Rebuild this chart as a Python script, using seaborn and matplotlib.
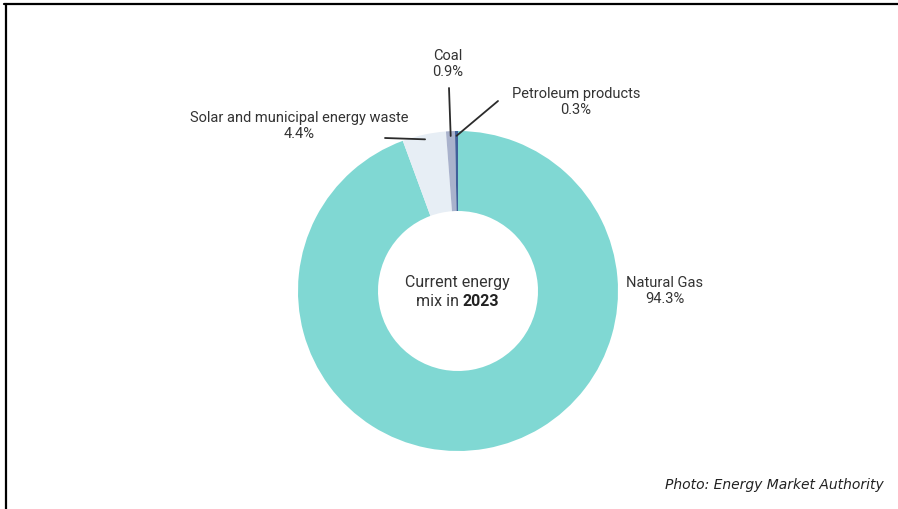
import numpy as np
import matplotlib.pyplot as plt
from matplotlib.lines import Line2D
import seaborn as sns

sns.set_theme(style='white')
plt.rcParams['font.family'] = ['Roboto', 'DejaVu Sans']

# Data
sources = ['Natural Gas', 'Solar and municipal energy waste', 'Coal', 'Petroleum products']
shares = [94.3, 4.4, 0.9, 0.3]
colors = ['#80d8d3', '#e7eef5', '#a9b2cc', '#40609a']
center_line1 = 'Current energy'
center_line2 = ['mix in', '2023']
credit = 'Photo: Energy Market Authority'

W, H = 898, 510
def px(x, y):
    # pixel position (top-left origin) -> data coords
    return x, H - y

fig = plt.figure(figsize=(W / 100, H / 100), dpi=100)
ax = fig.add_axes([0, 0, 1, 1])

cx, cy = px(458, 292)
R = 160
wedges, _ = ax.pie(shares, colors=colors, startangle=90, counterclock=False,
                   radius=R, center=(cx, cy),
                   wedgeprops=dict(width=R * 0.5, linewidth=0))
ax.set_xlim(0, W)
ax.set_ylim(0, H)
ax.set_aspect('equal')
ax.axis('off')

txt = '#333333'
fs = 10.5

# label positions and leader line starts (layout, pixel coords)
label_pos = {
    'Natural Gas': (665, 291),
    'Solar and municipal energy waste': (299, 126),
    'Coal': (448, 64),
    'Petroleum products': (576, 102),
}
leader_start = {
    'Solar and municipal energy waste': (385, 139),
    'Coal': (449, 89),
    'Petroleum products': (498, 102),
}

for w, name, val in zip(wedges, sources, shares):
    x, y = px(*label_pos[name])
    ax.text(x, y, f'{name}\n{val}%', ha='center', va='center', fontsize=fs,
            color=txt, linespacing=1.25)
    if name in leader_start:
        ang = np.deg2rad((w.theta1 + w.theta2) / 2)
        r = R * 0.97
        tip = (cx + r * np.cos(ang), cy + r * np.sin(ang))
        ax.annotate('', xy=tip, xytext=px(*leader_start[name]),
                    arrowprops=dict(arrowstyle='-', color='#2b2b2b', lw=1.3,
                                    shrinkA=0, shrinkB=0))

# centre text
ax.text(*px(457, 283), center_line1, ha='center', va='center', fontsize=11.5, color=txt)
ax.text(*px(459, 302), center_line2[0], ha='right', va='center', fontsize=11.5, color=txt)
ax.text(*px(463, 302), center_line2[1], ha='left', va='center', fontsize=11.5,
        color='#222222', fontweight='bold')

# credit
ax.text(*px(884, 485), credit, ha='right', va='center', fontsize=10,
        style='italic', color='#222222', family=['DejaVu Sans'])

# frame lines (top and left)
fig.add_artist(Line2D([4 / W, 1], [1 - 5 / H, 1 - 5 / H], color='black', lw=1.6,
                      transform=fig.transFigure))
fig.add_artist(Line2D([6 / W, 6 / W], [0, 1 - 5 / H], color='black', lw=1.6,
                      transform=fig.transFigure))

fig.savefig('out.png', dpi=100)
